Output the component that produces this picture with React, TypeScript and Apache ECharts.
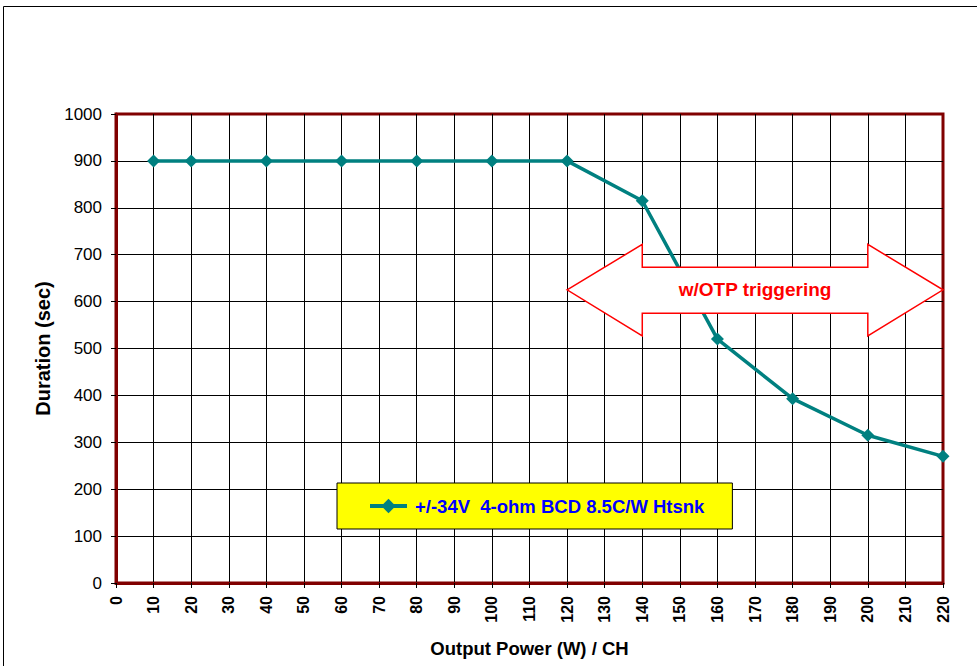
import React, { useEffect, useRef } from "react";
import * as echarts from "echarts";

const seriesName = "+/-34V  4-ohm BCD 8.5C/W Htsnk";
const powerW = [10, 20, 40, 60, 80, 100, 120, 140, 160, 180, 200, 220];
const durationSec = [900, 900, 900, 900, 900, 900, 900, 815, 520, 393, 315, 270];

const xMin = 0;
const xMax = 220;
const xStep = 10;
const yMin = 0;
const yMax = 1000;
const yStep = 100;

// annotation arrow in data coordinates
const arrowLabel = "w/OTP triggering";
const arrowTipX = [120, 220];
const arrowNotchX = [140, 200];
const arrowMidY = 625;
const arrowHeadY = [527, 722];
const arrowBodyY = [575, 673];

const FONT = "Arial, 'Liberation Sans', Helvetica, sans-serif";

export default function App() {
  const ref = useRef<HTMLDivElement>(null);

  useEffect(() => {
    if (!ref.current) return;
    const chart = echarts.init(ref.current, null, { renderer: "svg" });
    const option: any = {
      animation: false,
      backgroundColor: "#ffffff",
      graphic: [
        {
          type: "rect",
          shape: { x: 3.5, y: 6.5, width: 1100, height: 1100 },
          style: { fill: null, stroke: "#000", lineWidth: 1 },
          silent: true,
          z: -10,
        },
      ],
      grid: {
        left: 116,
        top: 114,
        right: 34,
        bottom: 83,
        show: true,
        borderColor: "#800000",
        borderWidth: 3,
        backgroundColor: "transparent",
      },
      legend: {
        data: [seriesName],
        left: 337,
        top: 483,
        orient: "horizontal",
        backgroundColor: "#ffff00",
        borderColor: "#000",
        borderWidth: 1,
        borderRadius: 0,
        padding: [13, 28, 13, 31],
        itemWidth: 37,
        itemHeight: 18,
        selectedMode: false,
        lineStyle: { width: 4 },
        textStyle: {
          color: "#0000ff",
          fontFamily: FONT,
          fontWeight: "bold",
          fontSize: 18.5,
          lineHeight: 20,
          padding: [0, 0, 0, 3],
        },
      },
      xAxis: {
        type: "value",
        min: xMin,
        max: xMax,
        interval: xStep,
        name: "Output Power (W) / CH",
        nameLocation: "middle",
        nameGap: 56,
        nameTextStyle: {
          color: "#000",
          fontFamily: FONT,
          fontWeight: "bold",
          fontSize: 18.5,
        },
        axisLine: { show: true, lineStyle: { color: "#800000", width: 3 } },
        axisTick: { show: true, length: 5, lineStyle: { color: "#000", width: 1 } },
        axisLabel: {
          rotate: 90,
          margin: 13,
          color: "#000",
          fontFamily: FONT,
          fontWeight: "bold",
          fontSize: 16,
          showMinLabel: true,
          showMaxLabel: true,
          formatter: (v: number) => String(v),
        },
        splitLine: {
          show: true,
          showMinLine: false,
          showMaxLine: false,
          lineStyle: { color: "#000", width: 1 },
        },
      },
      yAxis: {
        type: "value",
        min: yMin,
        max: yMax,
        interval: yStep,
        name: "Duration (sec)",
        nameLocation: "middle",
        nameGap: 62,
        nameTextStyle: {
          color: "#000",
          fontFamily: FONT,
          fontWeight: "bold",
          fontSize: 20,
        },
        axisLine: { show: true, lineStyle: { color: "#800000", width: 3 } },
        axisTick: { show: true, length: 5, lineStyle: { color: "#000", width: 1 } },
        axisLabel: {
          margin: 14,
          color: "#000",
          fontFamily: FONT,
          fontSize: 17,
          formatter: (v: number) => String(v),
        },
        splitLine: {
          show: true,
          showMinLine: false,
          showMaxLine: false,
          lineStyle: { color: "#000", width: 1 },
        },
      },
      series: [
        {
          name: seriesName,
          type: "line",
          data: powerW.map((x, i) => [x, durationSec[i]]),
          symbol: "diamond",
          symbolSize: 13,
          lineStyle: { color: "#008080", width: 3.5 },
          itemStyle: { color: "#008080" },
          z: 2,
        },
        {
          name: "arrow",
          type: "custom",
          silent: true,
          clip: false,
          z: 5,
          data: [[(arrowTipX[0] + arrowTipX[1]) / 2, arrowMidY]],
          renderItem: (_params: any, api: any) => {
            const c = (x: number, y: number) => api.coord([x, y]);
            const pts = [
              c(arrowTipX[0], arrowMidY),
              c(arrowNotchX[0], arrowHeadY[1]),
              c(arrowNotchX[0], arrowBodyY[1]),
              c(arrowNotchX[1], arrowBodyY[1]),
              c(arrowNotchX[1], arrowHeadY[1]),
              c(arrowTipX[1], arrowMidY),
              c(arrowNotchX[1], arrowHeadY[0]),
              c(arrowNotchX[1], arrowBodyY[0]),
              c(arrowNotchX[0], arrowBodyY[0]),
              c(arrowNotchX[0], arrowHeadY[0]),
            ];
            const center = c(api.value(0), api.value(1));
            return {
              type: "group",
              children: [
                {
                  type: "polygon",
                  shape: { points: pts },
                  style: { fill: "#ffffff", stroke: "#ff0000", lineWidth: 1.5 },
                },
                {
                  type: "text",
                  x: center[0],
                  y: center[1],
                  style: {
                    text: arrowLabel,
                    fill: "#ff0000",
                    fontFamily: FONT,
                    fontWeight: "bold",
                    fontSize: 19,
                    align: "center",
                    verticalAlign: "middle",
                  },
                },
              ],
            };
          },
        },
      ],
    };
    chart.setOption(option);
    return () => chart.dispose();
  }, []);

  return (
    <div
      ref={ref}
      style={{ position: "absolute", left: 0, top: 0, width: 977, height: 666 }}
    />
  );
}
